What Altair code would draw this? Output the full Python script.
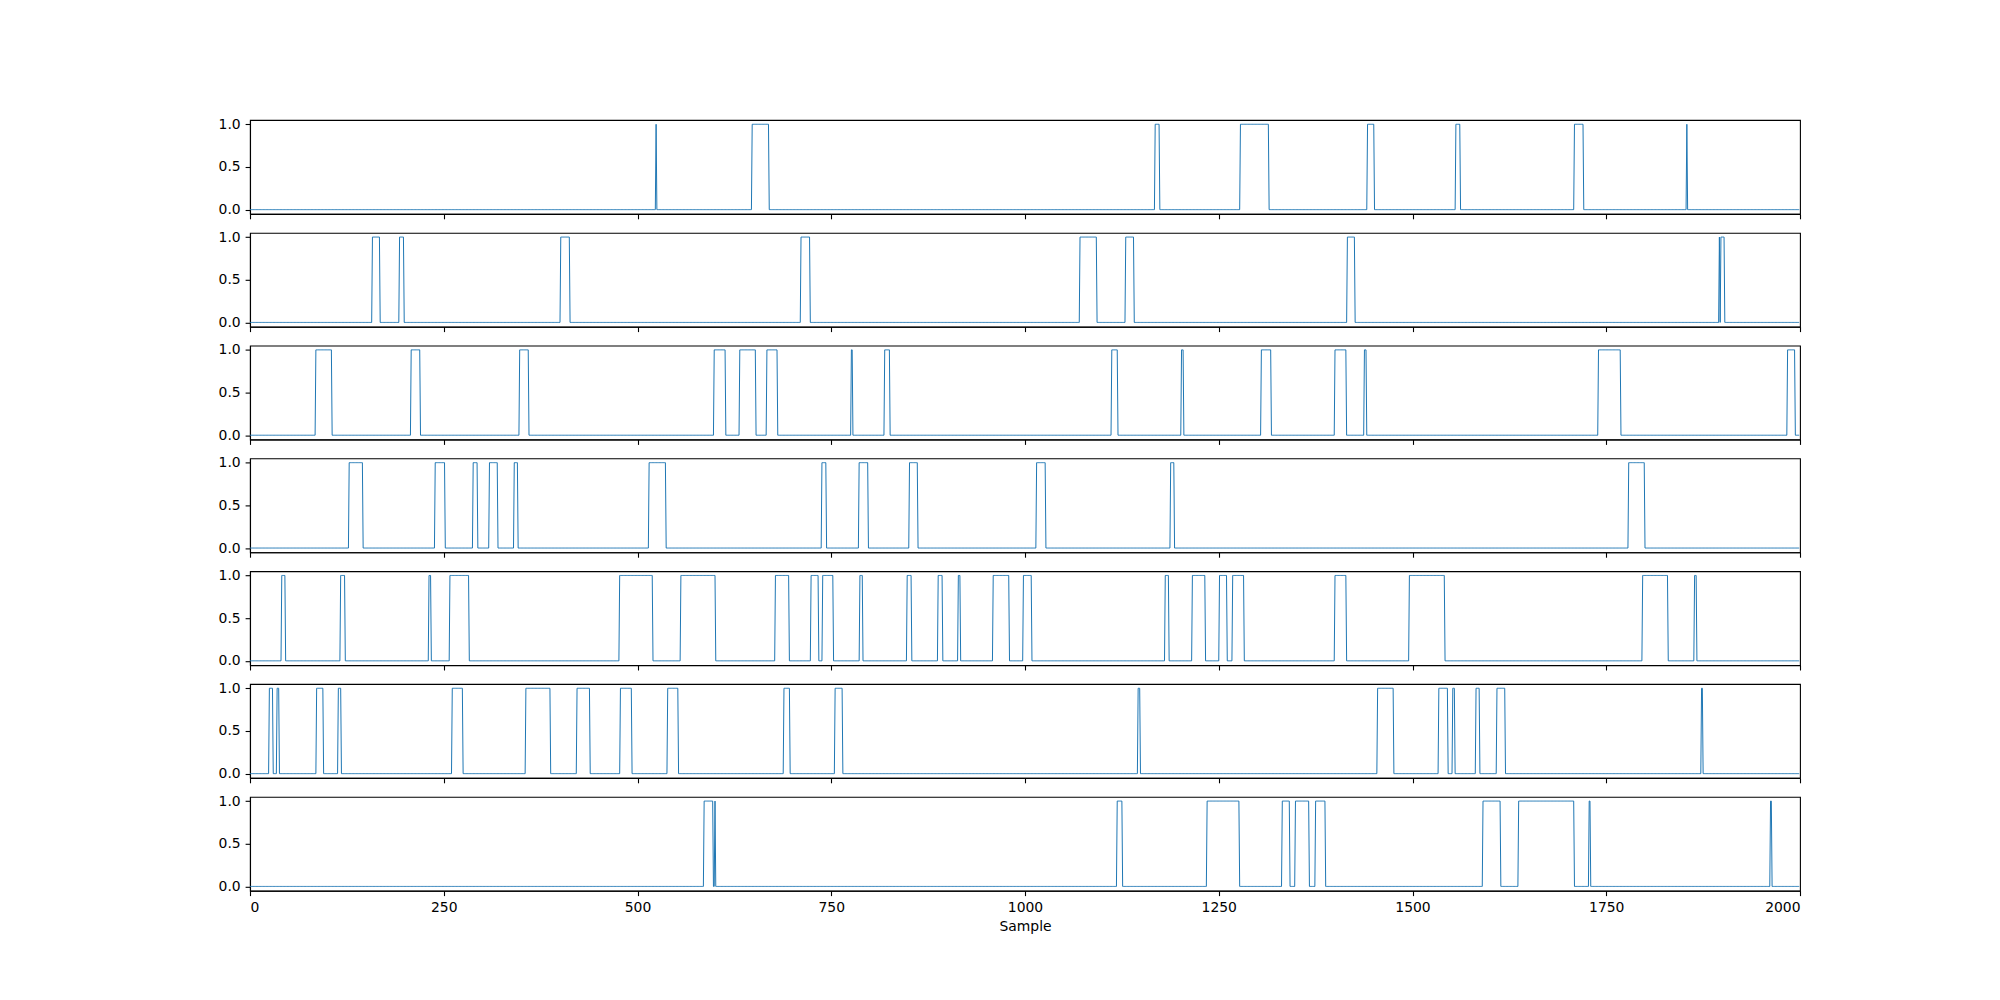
import altair as alt
import numpy as np
import pandas as pd

N_SAMPLES = 2000
x_ticks = [0, 250, 500, 750, 1000, 1250, 1500, 1750, 2000]
y_ticks = [0.0, 0.5, 1.0]

# pulse start / end samples (value 1 from start to end inclusive)
ch1_on = [524, 648, 1168, 1278, 1442, 1556, 1709, 1854]
ch1_off = [524, 669, 1173, 1314, 1450, 1561, 1720, 1854]

ch2_on = [158, 193, 401, 711, 1071, 1130, 1416, 1896, 1898]
ch2_off = [167, 198, 412, 722, 1092, 1140, 1425, 1896, 1902]

ch3_on = [85, 208, 348, 599, 632, 667, 776, 819, 1112, 1202, 1305, 1400, 1438, 1740, 1984]
ch3_off = [105, 219, 359, 613, 652, 680, 777, 825, 1119, 1204, 1317, 1414, 1440, 1768, 1993]

ch4_on = [128, 239, 288, 309, 341, 515, 738, 786, 851, 1015, 1188, 1779]
ch4_off = [145, 251, 293, 319, 345, 536, 743, 797, 861, 1026, 1192, 1799]

ch5_on = [41, 117, 231, 258, 477, 556, 678, 724, 739, 787, 848, 888, 914, 959, 998,
          1181, 1216, 1251, 1268, 1400, 1496, 1797, 1864]
ch5_off = [45, 122, 233, 282, 519, 600, 695, 733, 752, 790, 853, 893, 916, 979, 1008,
           1185, 1232, 1260, 1282, 1414, 1541, 1829, 1866]

ch6_on = [25, 35, 86, 114, 261, 356, 422, 478, 539, 689, 755, 1146, 1455, 1534, 1552, 1582, 1609, 1873]
ch6_off = [29, 37, 94, 117, 274, 387, 438, 492, 552, 696, 764, 1148, 1475, 1545, 1554, 1586, 1619, 1874]

ch7_on = [586, 600, 1119, 1235, 1332, 1349, 1375, 1591, 1637, 1728, 1962]
ch7_off = [597, 600, 1125, 1276, 1341, 1366, 1387, 1613, 1708, 1729, 1963]

channels = [(ch1_on, ch1_off), (ch2_on, ch2_off), (ch3_on, ch3_off), (ch4_on, ch4_off),
            (ch5_on, ch5_off), (ch6_on, ch6_off), (ch7_on, ch7_off)]

frames = []
for k, (on, off) in enumerate(channels):
    v = np.zeros(N_SAMPLES)
    for a, b in zip(on, off):
        v[a:b + 1] = 1.0
    frames.append(pd.DataFrame({"ch": k, "sample": np.arange(N_SAMPLES), "value": v}))
df = pd.concat(frames, ignore_index=True)

panels = []
n = len(channels)
for k in range(n):
    last = k == n - 1
    if last:
        xaxis = alt.Axis(values=x_ticks, labels=True, title="Sample", grid=False, format="d")
    else:
        xaxis = alt.Axis(values=x_ticks, labels=False, title=None, grid=False)
    p = (
        alt.Chart(df)
        .transform_filter(alt.datum.ch == k)
        .mark_line(color="#1f77b4", strokeWidth=1.0)
        .encode(
            x=alt.X("sample:Q", scale=alt.Scale(domain=[0, 2000], nice=False, zero=False), axis=xaxis),
            y=alt.Y("value:Q", scale=alt.Scale(domain=[-0.05, 1.05], nice=False, zero=False),
                    axis=alt.Axis(values=y_ticks, format=".1f", title=None, grid=False)),
            order="sample:Q",
        )
        .properties(width=1550, height=93.9)
    )
    panels.append(p)

chart = (
    alt.vconcat(*panels, spacing=18.8, bounds="flush")
    .properties(padding={"left": 217, "top": 116, "right": 10, "bottom": 10}, background="white")
    .configure_view(stroke="black", strokeWidth=1.1)
    .configure_axis(
        labelFont="DejaVu Sans", labelFontSize=13.9, labelColor="black",
        titleFont="DejaVu Sans", titleFontSize=13.9, titleColor="black", titleFontWeight="normal",
        tickColor="black", tickSize=4.9, tickWidth=1.1, labelPadding=4.9,
        domainColor="black", domainWidth=1.1, titlePadding=5,
    )
)

chart.save("out.html", embed_options={"renderer": "svg", "actions": False})
